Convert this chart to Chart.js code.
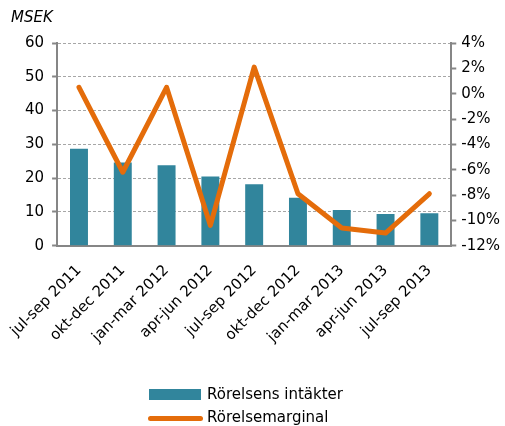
<!DOCTYPE html>
<html><head><meta charset="utf-8">
<script src="https://cdn.jsdelivr.net/npm/chart.js@4.4.0/dist/chart.umd.min.js"></script>
<style>
html,body{margin:0;padding:0;background:#fff;}
#wrap{position:relative;width:505px;height:426px;font-family:"DejaVu Sans",sans-serif;color:#000;}
#unit{position:absolute;left:11px;top:8px;font-size:15px;font-style:italic;}
.leg{position:absolute;left:149px;font-size:15px;line-height:17px;}
.sw{position:absolute;}
</style></head>
<body>
<div id="wrap">
<canvas id="c" width="505" height="426"></canvas>
<div id="unit">MSEK</div>
<div class="sw" style="left:149px;top:389px;width:52px;height:11px;background:#31859C"></div>
<div class="leg" style="left:207px;top:386px;">Rörelsens intäkter</div>
<div class="sw" style="left:148px;top:416px;width:55px;height:5px;border-radius:3px;background:#E46C0A"></div>
<div class="leg" style="left:207px;top:409px;">Rörelsemarginal</div>
</div>
<script>
const categories = ["jul-sep 2011","okt-dec 2011","jan-mar 2012","apr-jun 2012","jul-sep 2012","okt-dec 2012","jan-mar 2013","apr-jun 2013","jul-sep 2013"];
const intakter = [28.7, 24.6, 23.8, 20.5, 18.2, 14.2, 10.6, 9.4, 9.6];
const marginal = [0.5, -6.2, 0.5, -10.4, 2.1, -7.9, -10.6, -11.0, -7.9];
const leftTicks = [0, 60, 10];
const rightTicks = [-12, 4, 2];

const font = {family: "DejaVu Sans", size: 15};
new Chart(document.getElementById('c'), {
  data: {
    labels: categories,
    datasets: [
      {type:'bar', label:'Rörelsens intäkter', data:intakter, backgroundColor:'#31859C', yAxisID:'y', order:1,
       categoryPercentage:1, barPercentage:0.41},
      {type:'line', label:'Rörelsemarginal', data:marginal, borderColor:'#E46C0A', borderWidth:5, pointRadius:0,
       tension:0, yAxisID:'y2', order:0, borderJoinStyle:'round', borderCapStyle:'round'}
    ]
  },
  options: {
    responsive:false, animation:false,
    layout:{padding:{left:17, right:0, top:43, bottom:64}},
    plugins:{legend:{display:false}, tooltip:{enabled:false}},
    scales:{
      x:{
        grid:{display:false, drawTicks:false},
        border:{color:'#868686', width:2},
        ticks:{font, color:'#000', minRotation:45, maxRotation:45, padding:16, autoSkip:false},
        afterFit:(s)=>{ s.paddingLeft = 0; }
      },
      y:{
        position:'left', min:leftTicks[0], max:leftTicks[1],
        ticks:{stepSize:leftTicks[2], font, color:'#000', padding:8},
        grid:{color:'#A6A6A6', lineWidth:1, tickLength:5, tickColor:'#868686', tickWidth:2, tickBorderDash:[]},
        border:{color:'#868686', width:2, dash:[3,2]}
      },
      y2:{
        position:'right', min:rightTicks[0], max:rightTicks[1],
        ticks:{stepSize:rightTicks[2], font, color:'#000', padding:5, callback:v=>v+'%'},
        grid:{drawOnChartArea:false, tickLength:5, tickColor:'#868686', tickWidth:2},
        border:{color:'#868686', width:2}
      }
    }
  }
});
</script>
</body></html>
